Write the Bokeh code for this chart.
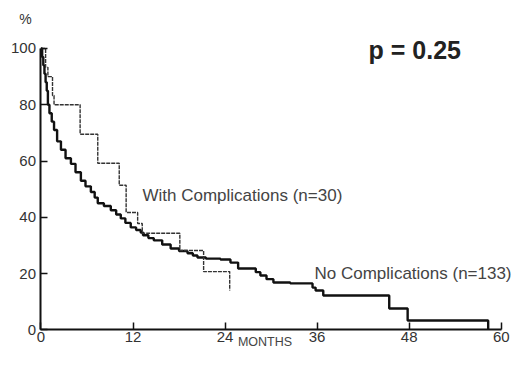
from bokeh.plotting import figure
from bokeh.models import Range1d, Label, FixedTicker
from bokeh.embed import file_html
from bokeh.resources import INLINE

# Kaplan-Meier curves (months, % surviving)
t_nc = [0, 0.15, 0.3, 0.45, 0.6, 0.75, 0.9, 1.1, 1.4, 1.7, 2.1, 2.6, 3.2, 3.9,
        4.5, 5.2, 5.8, 6.5, 7.0, 7.4, 8.2, 9.1, 9.8, 10.4, 11.0, 11.7,
        12.4, 13.0, 13.3, 14.0, 14.7, 15.8, 16.9, 18.0, 19.1, 19.8, 20.4, 21.5,
        23.4, 24.7, 25.7, 28.0, 28.6, 29.4, 30.3, 32.5, 35.4, 35.8, 36.8, 45.4,
        47.8, 58.3]
s_nc = [100, 97, 94, 91, 88, 85, 80, 77, 74, 71, 67, 64, 61, 59,
        56, 53, 51, 49, 47, 45, 44, 42.5, 41, 39.6, 38, 36.4,
        35.5, 34.6, 33.6, 32.6, 31.8, 30.3, 28.9, 28, 27.2, 26.4, 25.7, 25.3,
        25.0, 23.9, 21.8, 20.5, 19.3, 18, 16.8, 16.5, 15, 14, 12.2, 7.6,
        3.3, 0]

t_wc = [0, 0.6, 0.9, 1.5, 1.7, 5.1, 7.4, 10.2, 11.1, 12.6, 13.2, 18.1, 21.2, 24.6]
s_wc = [100, 93.3, 90, 83.3, 80, 69.5, 59.2, 51.4, 41.7, 37.8, 34.3, 28.2, 20.7, 14]

x_ticks = [0, 12, 24, 36, 48, 60]
y_ticks = [0, 20, 40, 60, 80, 100]

FONT = "Liberation Sans"

p = figure(width=511, height=351, output_backend="svg", toolbar_location=None,
           x_range=Range1d(-5.28, 61.34), y_range=Range1d(-7.71, 117.06),
           min_border_left=0, min_border_right=0,
           min_border_top=0, min_border_bottom=0)
p.outline_line_color = None
p.grid.visible = False
p.background_fill_color = "white"
p.border_fill_color = "white"

for ax, ticks, bounds in ((p.xaxis[0], x_ticks, (0, 60)), (p.yaxis[0], y_ticks, (0, 100))):
    ax.fixed_location = 0
    ax.bounds = bounds
    ax.ticker = FixedTicker(ticks=ticks)
    ax.major_tick_in = 7
    ax.major_tick_out = 0
    ax.minor_tick_line_color = None
    ax.axis_line_width = 2
    ax.axis_line_color = "#111111"
    ax.major_tick_line_color = "#111111"
    ax.major_tick_line_width = 1.5
    ax.major_label_text_font = FONT
    ax.major_label_text_font_size = "15px"
    ax.major_label_text_color = "#333333"
p.xaxis[0].major_label_standoff = 2
p.yaxis[0].major_label_standoff = 5

p.step(t_nc, s_nc, mode="after", line_width=2.4, line_color="#111111")
p.step(t_wc, s_wc, mode="after", line_width=1.4, line_color="#333333", line_dash="4 1")

def lab(x, y, text, size, bold=False, align="left", color="#444444"):
    p.add_layout(Label(x=x, y=y, text=text, text_font=FONT, text_font_size=size,
                       text_font_style="bold" if bold else "normal",
                       text_align=align, text_baseline="middle",
                       text_color=color))

lab(13.23, 47.9, "With Complications (n=30)", "17px")
lab(35.66, 19.85, "No Complications (n=133)", "17px")
lab(42.7, 99.3, "p = 0.25", "25px", bold=True, color="#222222")
lab(29.2, -4.4, "MONTHS", "12.5px", align="center")
lab(-2.02, 110.6, "%", "14px", align="center", color="#333333")

open("out.html", "w").write(file_html(p, INLINE))
